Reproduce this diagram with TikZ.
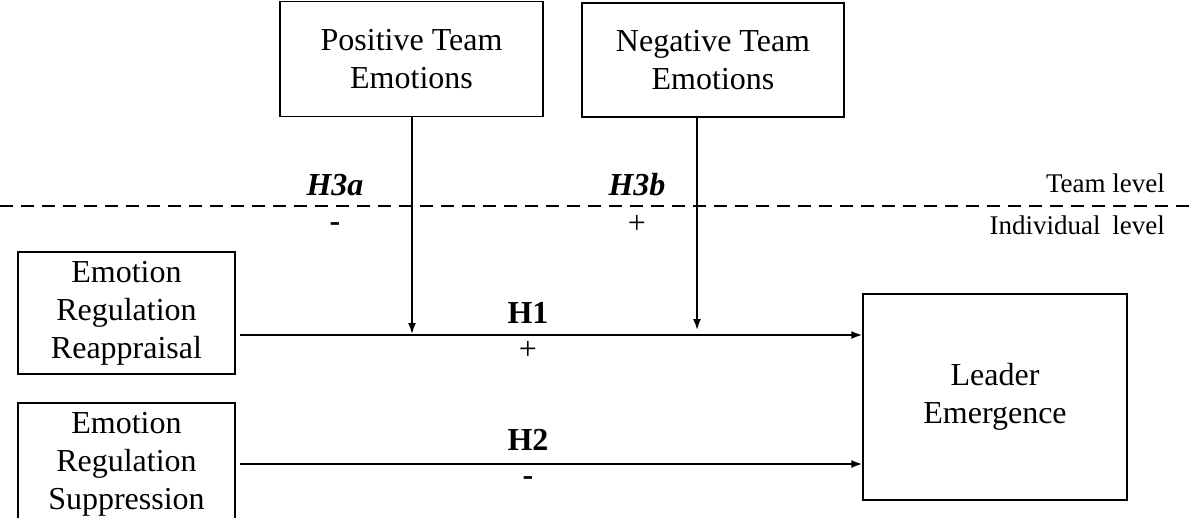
\documentclass[tikz,border=0pt]{standalone}
\usepackage{fontspec}
\setmainfont{Liberation Serif}
\usetikzlibrary{arrows.meta,positioning}
\def\bigfont{\fontsize{32}{38}\selectfont}
\def\levelfont{\fontsize{27}{32}\selectfont}
\tikzset{
  varbox/.style={draw, line width=1.4pt, align=center, inner sep=0pt, font=\bigfont},
  lbl/.style={inner sep=0pt, font=\bigfont},
  path/.style={line width=1.8pt, -{Latex[length=11pt,width=8pt]}},
  levelline/.style={line width=1.8pt, dash pattern=on 13pt off 8pt}
}
\begin{document}
\begin{tikzpicture}[x=1pt,y=-1pt]
  \useasboundingbox (0,0) rectangle (1192,517);
  \node[varbox, minimum width=263, minimum height=115] (pos) at (411.5,59) {Positive Team\\Emotions};
  \node[varbox, minimum width=262, minimum height=114] (neg) at (713,60) {Negative Team\\Emotions};
  \node[varbox, minimum width=217, minimum height=122] (reap) at (126.5,313) {Emotion\\Regulation\\Reappraisal};
  \node[varbox, minimum width=217, minimum height=122] (supp) at (126.5,464) {Emotion\\Regulation\\Suppression};
  \node[varbox, minimum width=264, minimum height=206] (lead) at (995,397) {Leader\\Emergence};

  \coordinate (ls) at (0,206);
  \coordinate (le) at (1192,206);
  \draw[levelline] (ls) -- (le);
  \node[lbl, font=\levelfont, anchor=east] (team) at (1165,183) {Team level};
  \node[lbl, font=\levelfont, anchor=east] (indiv) at (1165,225) {Individual\hspace{5pt} level};

  \coordinate (h1s) at (240,335);
  \coordinate (h2s) at (240,464);
  \draw[path] (h1s) -- (h1s -| lead.west);
  \draw[path] (h2s) -- (h2s -| lead.west);

  \coordinate (m1) at (412,334);
  \coordinate (m2) at (697,330);
  \draw[path] (pos.south -| m1) -- (m1);
  \draw[path] (neg.south -| m2) -- (m2);

  \node[lbl, font=\bigfont\bfseries] (h1) at (528,313) {H1};
  \node[lbl] (h1sign) at (528,350) {+};
  \node[lbl, font=\bigfont\bfseries] (h2) at (528,440) {H2};
  \node[lbl, font=\bigfont\bfseries] (h2sign) at (528,481) {-};
  \node[lbl, font=\bigfont\bfseries\itshape] (h3a) at (335,185) {H3a};
  \node[lbl, font=\bigfont\bfseries] (h3asign) at (335,227) {-};
  \node[lbl, font=\bigfont\bfseries\itshape] (h3b) at (637,185) {H3b};
  \node[lbl] (h3bsign) at (637,224) {+};
\end{tikzpicture}
\end{document}
